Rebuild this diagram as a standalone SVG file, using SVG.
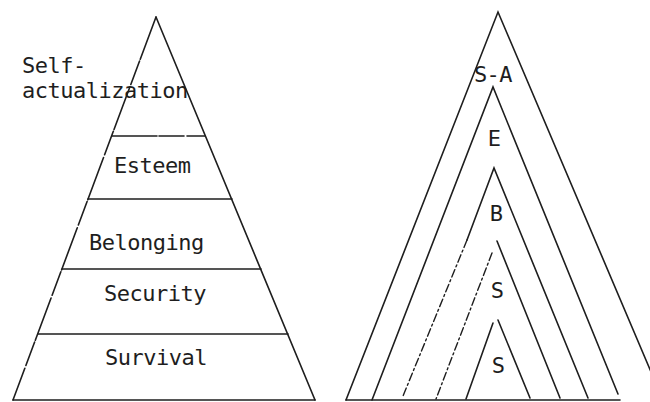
<svg xmlns="http://www.w3.org/2000/svg" width="650" height="402" viewBox="0 0 650 402">
<style>
.ln{stroke:#1e1e1e;stroke-width:1.6;fill:none;stroke-linecap:round}
.brk{stroke-dasharray:45 2 25 3}
.dd{stroke-dasharray:8 3 2 3;stroke-width:1.4}
.t{font-family:"DejaVu Sans Mono","Liberation Mono",monospace;font-size:22px;letter-spacing:-0.5px;fill:#1e1e1e}
</style>
<rect width="650" height="402" fill="#fff"/>
<g id="pyramid-left">
  <g id="left-outline">
    <line class="ln brk" x1="156" y1="17" x2="13" y2="400"/>
    <line class="ln" x1="156" y1="17" x2="315" y2="400"/>
    <line class="ln" x1="13" y1="400" x2="315" y2="400"/>
  </g>
  <g id="level-self-actualization">
    <text class="t" x="22" y="73">Self-</text>
    <text class="t" x="22" y="98">actualization</text>
    <line class="ln brk" x1="112" y1="136" x2="205" y2="136"/>
  </g>
  <g id="level-esteem">
    <text class="t" x="114" y="173">Esteem</text>
    <line class="ln" x1="88" y1="199" x2="232" y2="199"/>
  </g>
  <g id="level-belonging">
    <text class="t" x="89" y="250">Belonging</text>
    <line class="ln" x1="62" y1="269" x2="261" y2="269"/>
  </g>
  <g id="level-security">
    <text class="t" x="104" y="301">Security</text>
    <line class="ln" x1="38" y1="334" x2="288" y2="334"/>
  </g>
  <g id="level-survival">
    <text class="t" x="105" y="365">Survival</text>
  </g>
</g>
<g id="pyramid-right">
  <g id="base-right">
    <line class="ln" x1="346" y1="400" x2="620" y2="400"/>
  </g>
  <g id="shape-self-actualization">
    <polyline class="ln" points="346,400 498,12 663,400"/>
    <text class="t" x="493" y="82" text-anchor="middle">S-A</text>
  </g>
  <g id="shape-esteem">
    <polyline class="ln" points="372,400 493,87 618,394"/>
    <text class="t" x="494" y="146" text-anchor="middle">E</text>
  </g>
  <g id="shape-belonging">
    <polyline class="ln" points="467,240 494,168 588,398"/>
    <line class="ln dd" x1="467" y1="240" x2="403" y2="396"/>
    <text class="t" x="496" y="221" text-anchor="middle">B</text>
  </g>
  <g id="shape-security">
    <line class="ln" x1="497" y1="241" x2="560" y2="398"/>
    <line class="ln dd" x1="492" y1="253" x2="436" y2="399"/>
    <text class="t" x="497" y="298" text-anchor="middle">S</text>
  </g>
  <g id="shape-survival">
    <line class="ln" x1="498" y1="320" x2="530" y2="398"/>
    <line class="ln" x1="493" y1="323" x2="466" y2="399"/>
    <text class="t" x="498" y="373" text-anchor="middle">S</text>
  </g>
</g>
</svg>
